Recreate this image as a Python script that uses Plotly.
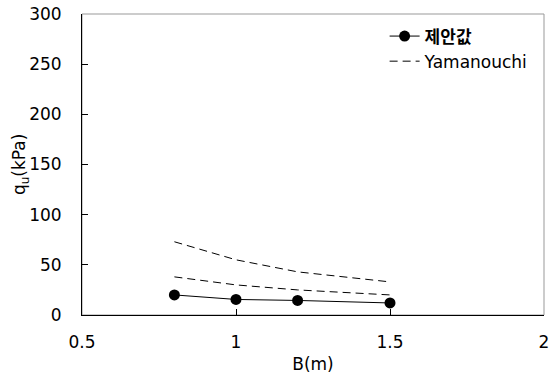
import plotly.graph_objects as go

B = [0.8, 1.0, 1.2, 1.5]
proposed = [20, 15.5, 14.5, 12]
yama_upper = [73, 55, 43, 33]
yama_lower = [38, 30, 25, 20]

font_family = "DejaVu Sans, Noto Sans CJK KR, sans-serif"

fig = go.Figure()
fig.add_trace(go.Scatter(x=B, y=yama_upper, mode="lines", name="Yamanouchi",
                         line=dict(color="black", width=1, dash="8px,5px")))
fig.add_trace(go.Scatter(x=B, y=yama_lower, mode="lines", name="Yamanouchi", showlegend=False,
                         line=dict(color="black", width=1, dash="8px,5px")))
fig.add_trace(go.Scatter(x=B, y=proposed, mode="lines+markers", name="<b>제안값</b>",
                         line=dict(color="black", width=1),
                         marker=dict(color="black", size=11)))

fig.update_layout(
    width=551, height=379,
    margin=dict(l=82, r=7, t=14, b=64),
    paper_bgcolor="white", plot_bgcolor="white",
    font=dict(family=font_family, size=17, color="black"),
    showlegend=True,
    legend=dict(x=0.655, y=0.985, xanchor="left", yanchor="top",
                bgcolor="rgba(0,0,0,0)", traceorder="reversed",
                font=dict(size=17, family=font_family),
                itemwidth=30, tracegroupgap=0),
    xaxis=dict(range=[0.5, 2.0], tickvals=[0.5, 1, 1.5, 2], ticktext=["0.5", "1", "1.5", "2"],
               showgrid=False, zeroline=False, showline=True, linecolor="black", linewidth=1,
               ticks="inside", ticklen=6, tickcolor="black", ticklabelstandoff=12,
               automargin=False,
               title=dict(text="B(m)", standoff=6, font=dict(size=17))),
    yaxis=dict(range=[0, 300], tickvals=[0, 50, 100, 150, 200, 250, 300],
               showgrid=False, zeroline=False, showline=True, linecolor="black", linewidth=1,
               ticks="inside", ticklen=6, tickcolor="black", ticklabelstandoff=16,
               automargin=False),
    annotations=[dict(text="q<sub>u</sub>(kPa)", xref="paper", yref="paper",
                      x=-0.133, y=0.5, xanchor="center", yanchor="middle",
                      textangle=-90, showarrow=False, font=dict(size=17))],
    shapes=[dict(type="rect", xref="paper", yref="paper", x0=0, y0=0, x1=1, y1=1,
                 line=dict(color="#999999", width=1), layer="below")],
)

fig.write_html("out.html")
